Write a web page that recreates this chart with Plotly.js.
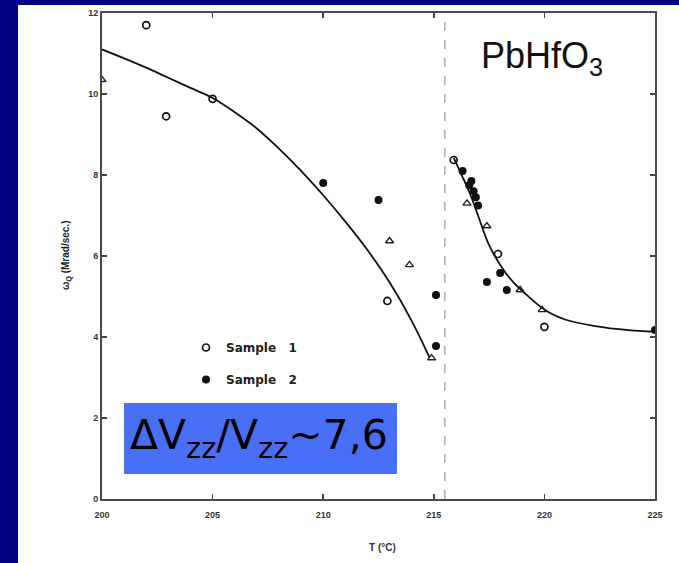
<!DOCTYPE html>
<html>
<head>
<meta charset="utf-8">
<script src="https://cdn.plot.ly/plotly-3.0.1.min.js"></script>
<style>
  html, body { margin: 0; padding: 0; background: #000080; }
  #chart { width: 679px; height: 563px; }
</style>
</head>
<body>
<div id="chart"></div>
<script>
// ---- data ----
const sample1T = [202.0, 205.0, 202.9, 212.9, 215.9, 217.9, 220.0];
const sample1W = [11.7, 9.88, 9.45, 4.89, 8.37, 6.05, 4.25];

const sample2T = [210.0, 212.5, 215.1, 215.1, 216.3, 216.6, 216.8, 216.9, 216.7, 217.0, 218.0, 217.4, 218.3, 225.0];
const sample2W = [7.8, 7.38, 5.04, 3.78, 8.1, 7.75, 7.6, 7.45, 7.85, 7.25, 5.58, 5.36, 5.16, 4.17];

const triT = [200.0, 213.0, 213.9, 214.9, 216.5, 217.4, 218.9, 219.9];
const triW = [10.35, 6.37, 5.78, 3.48, 7.3, 6.74, 5.16, 4.67];

const fitLowT = [200, 201, 202, 203, 204, 205, 206, 207, 208, 209, 210, 211, 212, 213, 214, 214.8];
const fitLowW = [11.1, 10.88, 10.65, 10.4, 10.15, 9.9, 9.55, 9.15, 8.65, 8.1, 7.5, 6.85, 6.15, 5.35, 4.4, 3.5];

const fitHighT = [215.9, 216.3, 216.7, 217.0, 217.5, 218.1, 218.6, 219.2, 220.1, 221.0, 222.3, 223.8, 225];
const fitHighW = [8.42, 7.95, 7.45, 7.0, 6.27, 5.7, 5.35, 5.04, 4.64, 4.42, 4.27, 4.17, 4.13];

const transitionT = [215.5];

const xTickVals = [200, 205, 210, 215, 220, 225];
const xTickText = ['200', '205', '210', '215', '220', '225'];
const yTickVals = [0, 2, 4, 6, 8, 10, 12];
const yTickText = ['0', '2', '4', '6', '8', '10', '12'];

// ---- traces ----
const lineStyle = { color: '#111', width: 1.8, shape: 'spline' };
const traces = [
  { x: fitLowT, y: fitLowW, mode: 'lines', line: lineStyle, showlegend: false, hoverinfo: 'skip' },
  { x: fitHighT, y: fitHighW, mode: 'lines', line: lineStyle, showlegend: false, hoverinfo: 'skip' },
  { x: triT, y: triW, mode: 'markers', showlegend: false,
    marker: { symbol: 'triangle-up-open', size: 7, color: '#222', line: { width: 1.4 } } },
  { x: sample1T, y: sample1W, mode: 'markers', name: 'Sample   1', legendgroup: 'a',
    marker: { symbol: 'circle-open', size: 7, color: '#111', line: { width: 1.7 } } },
  { x: sample2T, y: sample2W, mode: 'markers', name: 'Sample   2', legendgroup: 'b',
    marker: { symbol: 'circle', size: 8, color: '#111' } }
];

const W = 679, H = 563, L = 102, R = 24, T = 13, B = 64;
const pw = W - L - R, ph = H - T - B;
const px = v => (v - L) / pw;          // pixel x -> paper
const py = v => (H - B - v) / ph;       // pixel y -> paper

const axisCommon = {
  ticks: 'inside', ticklen: 5, tickwidth: 1.5, tickcolor: '#444', mirror: 'ticks',
  showline: true, linecolor: '#4a4a4a', linewidth: 2, showgrid: false, zeroline: false,
  tickfont: { size: 9, color: '#333', weight: 'bold' }
};

const layout = {
  width: W, height: H,
  margin: { l: L, r: R, t: T, b: B },
  paper_bgcolor: '#000080',
  plot_bgcolor: '#ffffff',
  font: { family: 'Liberation Sans, Arial, sans-serif', color: '#222' },
  xaxis: Object.assign({ range: [200, 225], tickvals: xTickVals, ticktext: xTickText, ticklabelstandoff: 6 }, axisCommon),
  yaxis: Object.assign({ range: [0, 12], tickvals: yTickVals, ticktext: yTickText }, axisCommon),
  legend: {
    x: px(186), y: py(333), xanchor: 'left', yanchor: 'top',
    bgcolor: 'rgba(0,0,0,0)', traceorder: 'grouped', tracegroupgap: 13,
    font: { size: 12, color: '#222', weight: 'bold', family: 'DejaVu Sans, sans-serif' }
  },
  shapes: [
    { type: 'rect', xref: 'paper', yref: 'paper', layer: 'below',
      x0: px(18), x1: px(W + 5), y0: py(H + 5), y1: py(5),
      fillcolor: '#ffffff', line: { width: 0 } },
    { type: 'line', xref: 'x', yref: 'paper', x0: transitionT[0], x1: transitionT[0], y0: 0, y1: 1,
      line: { color: '#aaa', width: 1.5, dash: 'dash' } },
    { type: 'rect', xref: 'paper', yref: 'paper',
      x0: px(124), x1: px(397), y0: py(474), y1: py(403),
      fillcolor: '#4a6ff7', line: { width: 0 } }
  ],
  annotations: [
    { xref: 'paper', yref: 'paper', x: px(542), y: py(58), xanchor: 'center', yanchor: 'middle',
      showarrow: false, text: 'PbHfO<sub>3</sub>',
      font: { size: 36, color: '#111', family: 'Liberation Sans, Arial, sans-serif' } },
    { xref: 'paper', yref: 'paper', x: px(259), y: py(438), xanchor: 'center', yanchor: 'middle',
      showarrow: false, text: '\u0394V<sub>zz</sub>/V<sub>zz</sub>~7,6',
      font: { size: 41, color: '#000', family: 'DejaVu Sans, sans-serif' } },
    { xref: 'paper', yref: 'paper', x: px(382), y: py(547), xanchor: 'center', yanchor: 'middle',
      showarrow: false, text: 'T (°C)',
      font: { size: 10, color: '#333', weight: 'bold' } },
    { xref: 'paper', yref: 'paper', x: px(66), y: py(256), xanchor: 'center', yanchor: 'middle',
      showarrow: false, textangle: -90, text: 'ω<sub>Q</sub> (Mrad/sec.)',
      font: { size: 10, color: '#222', weight: 'bold' } }
  ]
};

Plotly.newPlot('chart', traces, layout, { displayModeBar: false, staticPlot: true });
</script>
</body>
</html>
